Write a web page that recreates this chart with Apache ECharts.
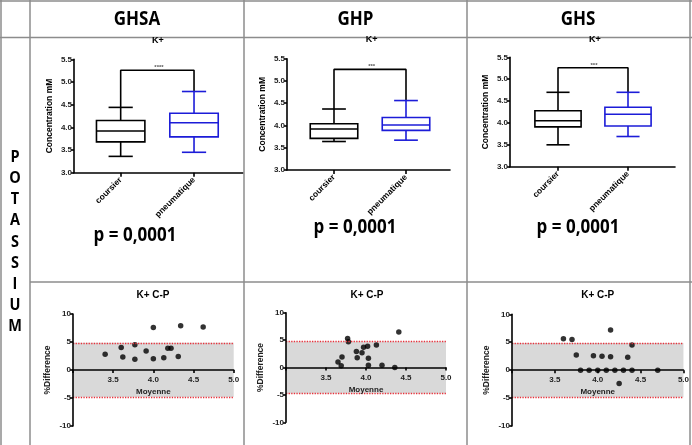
<!DOCTYPE html>
<html>
<head>
<meta charset="utf-8">
<script src="https://cdn.jsdelivr.net/npm/echarts@6/dist/echarts.min.js"></script>
<style>
html,body{margin:0;padding:0;background:#fff;}
#c{width:692px;height:445px;}
</style>
</head>
<body>
<div id="c"></div>
<script>
// ---------------- DATA ----------------
const columnHeaders = ['GHSA', 'GHP', 'GHS'];
const rowLabel = 'POTASSIUM';
const boxTitle = 'K+';
const baTitle = 'K+ C-P';
const boxCategories = ['coursier', 'pneumatique'];
// [min, Q1, median, Q3, max]
const ghsaCoursier    = [3.36, 3.68, 3.92, 4.15, 4.44];
const ghsaPneumatique = [3.45, 3.79, 4.10, 4.31, 4.79];
const ghpCoursier     = [3.64, 3.71, 3.92, 4.04, 4.37];
const ghpPneumatique  = [3.67, 3.89, 4.01, 4.18, 4.56];
const ghsCoursier     = [3.50, 3.91, 4.05, 4.28, 4.70];
const ghsPneumatique  = [3.69, 3.93, 4.20, 4.36, 4.70];
const bracketLevel = 5.26;
const significance = ['****', '***', '***'];
const pValueTexts = ['p = 0,0001', 'p = 0,0001', 'p = 0,0001'];
const concAxis = { min: 3.0, max: 5.5, interval: 0.5, name: 'Concentration mM' };

// Bland-Altman: [moyenne, %difference]
const ghsaBA = [[3.40,2.8],[3.60,4.0],[3.62,2.3],[3.77,4.5],[3.77,1.9],[3.91,3.4],[4.00,7.6],[4.00,2.0],
                [4.13,2.2],[4.18,3.9],[4.22,3.9],[4.31,2.4],[4.34,7.9],[4.62,7.7]];
const ghpBA  = [[3.65,1.0],[3.70,1.9],[3.69,0.3],[3.77,5.3],[3.78,4.7],[3.88,2.9],[3.89,1.8],[3.95,2.7],
                [3.97,3.7],[4.02,3.9],[4.03,1.7],[4.03,0.4],[4.13,4.1],[4.20,0.4],[4.36,0.0],[4.41,6.5]];
const ghsBA  = [[3.60,5.6],[3.70,5.5],[3.75,2.7],[3.80,0],[3.90,0],[3.95,2.6],[4.00,0],[4.05,2.5],[4.10,0],
                [4.15,7.2],[4.15,2.4],[4.20,0],[4.25,-2.4],[4.30,0],[4.35,2.3],[4.40,4.5],[4.40,0],[4.70,0]];
const ghsaLoA = [-4.8, 4.85];
const ghpLoA  = [-4.75, 4.75];
const ghsLoA  = [-4.85, 4.85];
const baXAxis = { min: 3.0, max: 5.0, interval: 0.5, name: 'Moyenne' };
const baYAxis = { min: -10, max: 10, interval: 5, name: '%Difference' };

// ---------------- LAYOUT / STYLE ----------------
const BLUE = '#1c1cd8';
const FONT = '"Liberation Sans", Arial, sans-serif';
const HFONT = '"Open Sans", "Noto Sans", sans-serif';
const boxGridsA = [
  {left: 74,  top: 59.3, width: 169, height: 113.4},
  {left: 287, top: 58.7, width: 163, height: 111.3},
  {left: 510, top: 57.3, width: 165, height: 109.4}
];
const boxGridsB = [
  {left: 84,  top: 59.3, width: 146.7, height: 113.4},
  {left: 298, top: 58.7, width: 144, height: 111.3},
  {left: 523, top: 57.3, width: 140, height: 109.4}
];
const baGrids = [
  {left: 73,  top: 314,   width: 160.7, height: 112},
  {left: 286, top: 312.7, width: 160,   height: 109.6},
  {left: 512, top: 314.3, width: 173,   height: 111.7}
];

const boxSets = [[ghsaCoursier, ghsaPneumatique],[ghpCoursier, ghpPneumatique],[ghsCoursier, ghsPneumatique]];
const baSets = [ghsaBA, ghpBA, ghsBA];
const loaSets = [ghsaLoA, ghpLoA, ghsLoA];

const grids = [], xAxes = [], yAxes = [], series = [];
const axisLineStyle = {color: '#000', width: 1.6};
const tickLabel = {fontFamily: FONT, fontWeight: 'bold', fontSize: 8, color: '#222'};

boxGridsA.forEach(g => grids.push(Object.assign({}, g)));
boxGridsB.forEach(g => grids.push(Object.assign({}, g)));
baGrids.forEach(g => grids.push(Object.assign({}, g)));

// box panels A (axis frame)
for (let i = 0; i < 3; i++) {
  xAxes.push({type: 'value', gridIndex: i, min: 0, max: 1, axisLine: {show: true, lineStyle: axisLineStyle},
    axisTick: {show: false}, axisLabel: {show: false}, splitLine: {show: false}});
  yAxes.push({type: 'value', gridIndex: i, min: concAxis.min, max: concAxis.max, interval: concAxis.interval,
    axisLine: {show: true, lineStyle: axisLineStyle}, axisTick: {show: true, length: 3, lineStyle: axisLineStyle},
    axisLabel: Object.assign({margin: 2, formatter: v => v.toFixed(1)}, tickLabel), splitLine: {show: false},
    name: concAxis.name, nameLocation: 'middle', nameGap: 20, nameRotate: 90,
    nameTextStyle: {fontFamily: FONT, fontWeight: 'bold', fontSize: 8.5, color: '#000'}});
}
// box panels B (categories)
for (let i = 0; i < 3; i++) {
  xAxes.push({type: 'category', gridIndex: 3 + i, data: boxCategories, axisLine: {show: false},
    axisTick: {show: true, alignWithLabel: true, length: 4, lineStyle: axisLineStyle},
    axisLabel: Object.assign({rotate: 45, margin: 6, interval: 0}, tickLabel, {color: '#000', fontSize: 8.5}), splitLine: {show: false}});
  yAxes.push({type: 'value', gridIndex: 3 + i, min: concAxis.min, max: concAxis.max, show: false, splitLine: {show: false}});
}
// BA panels: x axis placed at y = 0 (the middle of the symmetric y range)
for (let i = 0; i < 3; i++) {
  xAxes.push({type: 'value', gridIndex: 6 + i, min: baXAxis.min, max: baXAxis.max, interval: baXAxis.interval, z: 5,
    position: 'bottom', offset: -baGrids[i].height / 2,
    axisLine: {show: true, onZero: false, lineStyle: axisLineStyle}, axisTick: {show: true, length: 3, lineStyle: axisLineStyle},
    axisLabel: Object.assign({margin: 6, formatter: v => v === baXAxis.min ? '' : v.toFixed(1)}, tickLabel),
    splitLine: {show: false}, name: baXAxis.name, nameLocation: 'middle', nameGap: 18,
    nameTextStyle: {fontFamily: FONT, fontWeight: 'bold', fontSize: 8, color: '#222'}});
  yAxes.push({type: 'value', gridIndex: 6 + i, min: baYAxis.min, max: baYAxis.max, interval: baYAxis.interval, z: 5,
    axisLine: {show: true, onZero: false, lineStyle: axisLineStyle}, axisTick: {show: true, length: 3, lineStyle: axisLineStyle},
    axisLabel: Object.assign({margin: 2}, tickLabel), splitLine: {show: false},
    name: baYAxis.name, nameLocation: 'middle', nameGap: 21, nameRotate: 90,
    nameTextStyle: {fontFamily: FONT, fontWeight: 'bold', fontSize: 8.5, color: '#222'}});
}

function renderBox(params, api) {
  const cx = api.value(0);
  const p = [1, 2, 3, 4, 5].map(k => api.coord([cx, api.value(k)]));
  const x = p[0][0];
  const band = api.size([1, 0])[0];
  const hw = band * 0.33, cw = hw / 2;
  const color = api.visual('color');
  const ls = {stroke: color, lineWidth: 1.6, fill: null};
  return {type: 'group', children: [
    {type: 'line', shape: {x1: x, y1: p[4][1], x2: x, y2: p[3][1]}, style: ls},
    {type: 'line', shape: {x1: x, y1: p[0][1], x2: x, y2: p[1][1]}, style: ls},
    {type: 'line', shape: {x1: x - cw, y1: p[4][1], x2: x + cw, y2: p[4][1]}, style: ls},
    {type: 'line', shape: {x1: x - cw, y1: p[0][1], x2: x + cw, y2: p[0][1]}, style: ls},
    {type: 'rect', shape: {x: x - hw, y: p[3][1], width: 2 * hw, height: p[1][1] - p[3][1]},
      style: {stroke: color, lineWidth: 1.6, fill: '#fff'}},
    {type: 'line', shape: {x1: x - hw, y1: p[2][1], x2: x + hw, y2: p[2][1]}, style: ls}
  ]};
}

for (let i = 0; i < 3; i++) {
  const [c, pn] = boxSets[i];
  series.push({type: 'line', xAxisIndex: 3 + i, yAxisIndex: 3 + i, symbol: 'none', silent: true, z: 1,
    lineStyle: {color: '#000', width: 1.6},
    data: [[0, c[4]], [0, bracketLevel], [1, bracketLevel], [1, pn[4]]]});
  series.push({type: 'custom', xAxisIndex: 3 + i, yAxisIndex: 3 + i, renderItem: renderBox, z: 3,
    encode: {x: 0, y: [1, 2, 3, 4, 5]},
    data: [{value: [0].concat(c), itemStyle: {color: '#000'}}, {value: [1].concat(pn), itemStyle: {color: BLUE}}]});
}
for (let i = 0; i < 3; i++) {
  const loa = loaSets[i];
  series.push({type: 'scatter', xAxisIndex: 6 + i, yAxisIndex: 6 + i, symbolSize: 5.5, z: 4,
    itemStyle: {color: '#000'}, data: baSets[i],
    markArea: {silent: true, itemStyle: {color: '#d9d9d9'},
      data: [[{xAxis: baXAxis.min, yAxis: loa[0]}, {xAxis: baXAxis.max, yAxis: loa[1]}]]},
    markLine: {silent: true, symbol: 'none', label: {show: false},
      lineStyle: {type: 'dotted', color: '#e8303a', width: 1.3},
      data: [{yAxis: loa[0]}, {yAxis: loa[1]}]}});
}

// ---------------- TABLE + TEXT ----------------
const G = [];
const lineCol = '#8c8c8c';
function hline(x1, x2, y) { G.push({type: 'line', shape: {x1, y1: y, x2, y2: y}, style: {stroke: lineCol, lineWidth: 1.5}, z: 10}); }
function vline(x, y1, y2) { G.push({type: 'line', shape: {x1: x, y1, x2: x, y2}, style: {stroke: lineCol, lineWidth: 1.5}, z: 10}); }
hline(0, 692, 1);
hline(0, 692, 37.5);
hline(30, 692, 282);
[1, 30, 244, 467, 690].forEach(x => vline(x, 0, 445));

function txt(x, y, text, size, opts) {
  opts = opts || {};
  G.push({type: 'text', x, y, scaleY: opts.scaleY || 1, z: 11,
    style: {text, align: 'center', verticalAlign: 'middle', fontSize: size, fontWeight: 'bold',
      fontFamily: opts.font || FONT, fill: opts.color || '#000'}});
}
const headerX = [137, 355.5, 578];
columnHeaders.forEach((h, i) => txt(headerX[i], 19, h, 17, {font: HFONT, scaleY: 1.2}));
rowLabel.split('').forEach((ch, i) => txt(15, 157 + i * 21.2, ch, 14.5, {font: HFONT, scaleY: 1.15}));
const boxTitlePos = [[158, 41], [371.7, 40], [595, 40]];
boxTitlePos.forEach(p => txt(p[0], p[1], boxTitle, 9));
const starPos = [[159, 67], [371.7, 66.5], [594, 65.5]];
starPos.forEach((p, i) => txt(p[0], p[1], significance[i], 6, {color: '#555'}));
const pPos = [[135, 235], [355, 227], [578, 227]];
pPos.forEach((p, i) => txt(p[0], p[1], pValueTexts[i], 17, {font: HFONT, scaleY: 1.2}));
const baTitlePos = [[153, 295], [367, 295], [597.7, 295]];
baTitlePos.forEach(p => txt(p[0], p[1], baTitle, 10));

const chart = echarts.init(document.getElementById('c'), null, {renderer: 'canvas'});
chart.setOption({
  animation: false,
  backgroundColor: '#fff',
  grid: grids,
  xAxis: xAxes,
  yAxis: yAxes,
  series: series,
  graphic: G
});
</script>
</body>
</html>
